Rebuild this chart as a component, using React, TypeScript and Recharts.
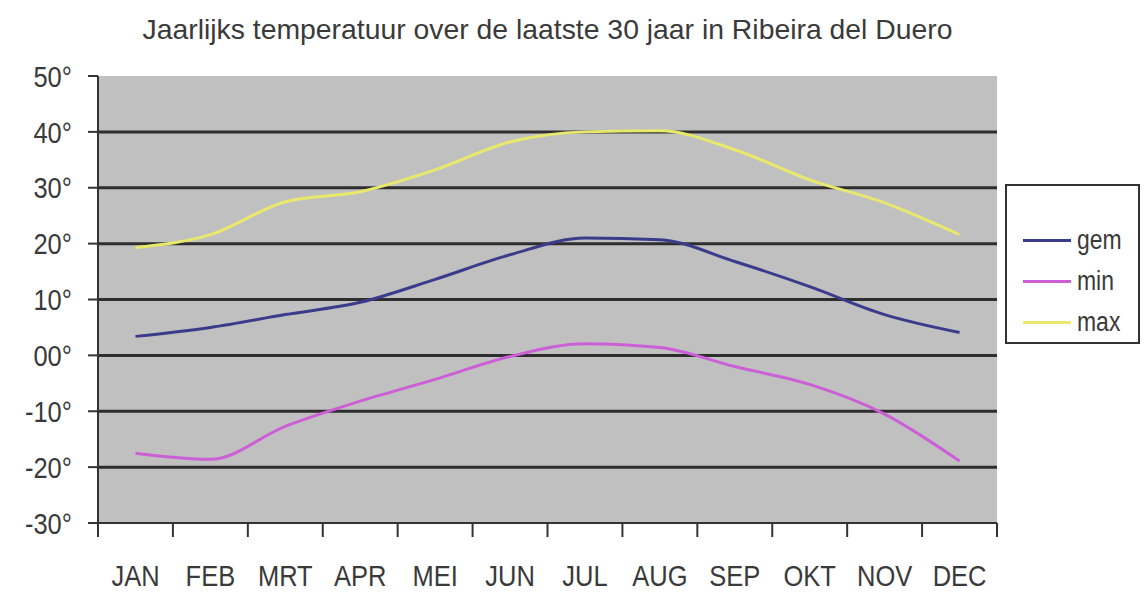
import { LineChart, Line, XAxis, YAxis, CartesianGrid } from 'recharts';

const months = ['JAN', 'FEB', 'MRT', 'APR', 'MEI', 'JUN', 'JUL', 'AUG', 'SEP', 'OKT', 'NOV', 'DEC'];
const gem = [3.4, 5, 7.3, 9.5, 13.6, 18, 21, 20.7, 16.8, 12.3, 7.3, 4.1];
const min = [-17.5, -18.6, -12.7, -8.2, -4.3, -0.2, 2.1, 1.4, -2, -5.2, -10.5, -18.9];
const max = [19.3, 21.6, 27.5, 29.3, 33.2, 38.2, 40, 40.2, 36.8, 31.4, 27.3, 21.6];
const yTicks = [-30, -20, -10, 0, 10, 20, 30, 40, 50];
const yTickLabels = ['-30°', '-20°', '-10°', '00°', '10°', '20°', '30°', '40°', '50°'];
const gridValues = [-20, -10, 0, 10, 20, 30, 40];
const seriesNames = ['gem', 'min', 'max'];
const seriesColors = ['#3b3b8c', '#cc5fd6', '#e8e86c'];

const data = months.map((m, i) => ({ month: m, gem: gem[i], min: min[i], max: max[i] }));

const W = 1145;
const H = 592;
const LEFT = 98;
const RIGHT = 148;
const TOP = 76;
const XAXIS_H = 69;
const PLOT_W = W - LEFT - RIGHT;
const HALF_BAND = PLOT_W / months.length / 2;

const FONT = '"Liberation Sans", Arial, sans-serif';
const TEXT = '#3a3a3a';
const AXIS = '#333333';
const SQUEEZE = 0.85;

function MonthTick(props: any) {
  const { x, y, payload, index } = props;
  return (
    <g>
      <line x1={x - HALF_BAND} x2={x - HALF_BAND} y1={y - 8} y2={y + 6} stroke={AXIS} strokeWidth={2} />
      {index === months.length - 1 && (
        <line x1={x + HALF_BAND} x2={x + HALF_BAND} y1={y - 8} y2={y + 6} stroke={AXIS} strokeWidth={2} />
      )}
      <text
        transform={`translate(${x},${y + 55}) scale(${SQUEEZE},1)`}
        textAnchor="middle"
        fill={TEXT}
        fontSize={30}
        fontFamily={FONT}
      >
        {payload.value}
      </text>
    </g>
  );
}

function TempTick(props: any) {
  const { x, y, payload } = props;
  return (
    <text
      transform={`translate(${x},${y}) scale(${SQUEEZE},1)`}
      dy="0.355em"
      textAnchor="end"
      fill={TEXT}
      fontSize={30}
      fontFamily={FONT}
    >
      {yTickLabels[yTicks.indexOf(payload.value)]}
    </text>
  );
}

function LegendBox() {
  return (
    <div
      style={{
        position: 'absolute',
        left: 1005,
        top: 184,
        width: 135,
        height: 160,
        border: '2px solid #333',
        background: '#fff',
        boxSizing: 'border-box',
        paddingTop: 34,
        paddingLeft: 16,
        fontFamily: FONT,
        fontSize: 27,
        color: TEXT,
      }}
    >
      {seriesNames.map((name, i) => (
        <div key={name} style={{ display: 'flex', alignItems: 'center', height: 41 }}>
          <div style={{ width: 48, height: 3, background: seriesColors[i], marginRight: 6 }} />
          <span style={{ display: 'inline-block', transform: `scaleX(${SQUEEZE})`, transformOrigin: 'left center' }}>
            {name}
          </span>
        </div>
      ))}
    </div>
  );
}

export default function App() {
  return (
    <div style={{ position: 'absolute', left: 0, top: 0, width: W, height: H, background: '#fff' }}>
      <svg width={W} height={60} style={{ position: 'absolute', left: 0, top: 0 }}>
        <text
          x={LEFT + PLOT_W / 2}
          y={39}
          textAnchor="middle"
          textLength={810}
          lengthAdjust="spacingAndGlyphs"
          fill={TEXT}
          fontSize={28}
          fontFamily={FONT}
        >
          Jaarlijks temperatuur over de laatste 30 jaar in Ribeira del Duero
        </text>
      </svg>
      <LineChart width={W} height={H} data={data} margin={{ top: TOP, right: RIGHT, bottom: 0, left: 0 }}>
        <CartesianGrid
          vertical={false}
          horizontalValues={gridValues}
          stroke="#2e2e2e"
          strokeWidth={3}
          fill="#c0c0c0"
        />
        <XAxis
          dataKey="month"
          height={XAXIS_H}
          padding={{ left: HALF_BAND, right: HALF_BAND }}
          tickLine={false}
          tick={<MonthTick />}
          interval={0}
          axisLine={{ stroke: AXIS, strokeWidth: 2 }}
        />
        <YAxis
          width={LEFT}
          domain={[-30, 50]}
          ticks={yTicks}
          interval={0}
          tickSize={10}
          tickMargin={16}
          tickLine={{ stroke: AXIS, strokeWidth: 2 }}
          axisLine={{ stroke: AXIS, strokeWidth: 2 }}
          tick={<TempTick />}
        />
        {seriesNames.map((name, i) => (
          <Line
            key={name}
            type="monotone"
            dataKey={name}
            name={name}
            stroke={seriesColors[i]}
            strokeWidth={3}
            dot={false}
            isAnimationActive={false}
          />
        ))}
      </LineChart>
      <LegendBox />
    </div>
  );
}
